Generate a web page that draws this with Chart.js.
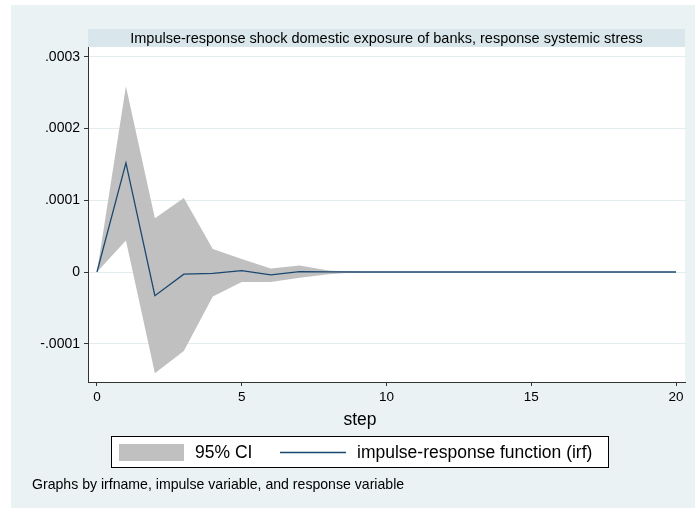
<!DOCTYPE html>
<html>
<head>
<meta charset="utf-8">
<script src="https://cdn.jsdelivr.net/npm/chart.js@4/dist/chart.umd.min.js"></script>
<style>
  body { margin: 0; background: #fff; }
  canvas { display: block; }
</style>
</head>
<body>
<canvas id="irfChart" width="695" height="508"></canvas>
<script>
const steps = [0, 1, 2, 3, 4, 5, 6, 7, 8, 9, 10, 11, 12, 13, 14, 15, 16, 17, 18, 19, 20];
const irf = [0, 1.52e-4, -0.33e-4, -0.03e-4, -0.02e-4, 0.02e-4, -0.04e-4, 0.005e-4, 0.001e-4, 0, 0, 0, 0, 0, 0, 0, 0, 0, 0, 0, 0];
const ciUpper = [0, 2.59e-4, 0.75e-4, 1.03e-4, 0.32e-4, 0.18e-4, 0.05e-4, 0.09e-4, 0.02e-4, 0.005e-4, 0.001e-4, 0, 0, 0, 0, 0, 0, 0, 0, 0, 0];
const ciLower = [0, 0.44e-4, -1.41e-4, -1.10e-4, -0.34e-4, -0.14e-4, -0.14e-4, -0.08e-4, -0.03e-4, -0.005e-4, -0.001e-4, 0, 0, 0, 0, 0, 0, 0, 0, 0, 0];
const xTicks = [0, 5, 10, 15, 20];
const yTicks = [-1e-4, 0, 1e-4, 2e-4, 3e-4];

const titleText = 'Impulse-response shock domestic exposure of banks, response systemic stress';
const noteText = 'Graphs by irfname, impulse variable, and response variable';
const FONT = "'Liberation Sans', Arial, sans-serif";
const NAVY = '#1a476f';
const CI_GRAY = '#c0c0c0';

function pts(vals) {
    return steps.map((s, i) => ({ x: s, y: vals[i] }));
}

function fmtY(v) {
    if (Math.abs(v) < 1e-12) return '0';
    return (v < 0 ? '-' : '') + Math.abs(v).toFixed(4).replace(/^0/, '');
}

const stataFrame = {
    id: 'stataFrame',
    beforeDraw(chart) {
        const ctx = chart.ctx;
        const a = chart.chartArea;
        ctx.save();
        ctx.fillStyle = '#ffffff';
        ctx.fillRect(0, 0, chart.width, chart.height);
        ctx.fillStyle = '#eaf2f3';
        ctx.fillRect(11, 5, chart.width - 11, chart.height - 5);
        // title band
        ctx.fillStyle = '#d9e6eb';
        ctx.fillRect(a.left, 29, a.right - a.left, 18);
        ctx.fillStyle = '#ffffff';
        ctx.fillRect(a.left, a.top, a.right - a.left, a.bottom - a.top);
        ctx.restore();
    },
    afterDraw(chart) {
        const ctx = chart.ctx;
        const a = chart.chartArea;
        ctx.save();
        ctx.fillStyle = '#000';
        ctx.textBaseline = 'middle';

        ctx.textAlign = 'center';
        ctx.font = '14.5px ' + FONT;
        ctx.fillText(titleText, (a.left + a.right) / 2, 38.5);

        ctx.font = '17.5px ' + FONT;
        ctx.fillText('step', 360, 420);

        // legend box
        ctx.fillStyle = '#ffffff';
        ctx.fillRect(111.5, 436.5, 497, 31);
        ctx.strokeStyle = '#000';
        ctx.lineWidth = 1;
        ctx.strokeRect(111.5, 436.5, 497, 31);
        ctx.fillStyle = CI_GRAY;
        ctx.fillRect(119, 444, 65, 17);
        ctx.strokeStyle = NAVY;
        ctx.lineWidth = 1.3;
        ctx.beginPath();
        ctx.moveTo(280, 452.5);
        ctx.lineTo(346, 452.5);
        ctx.stroke();
        ctx.fillStyle = '#000';
        ctx.textAlign = 'left';
        ctx.font = '17.5px ' + FONT;
        ctx.fillText('95% CI', 195, 453);
        ctx.fillText('impulse-response function (irf)', 357, 453);

        ctx.font = '14.1px ' + FONT;
        ctx.fillText(noteText, 32, 485);
        ctx.restore();
    }
};

new Chart(document.getElementById('irfChart').getContext('2d'), {
    type: 'line',
    data: {
        datasets: [
            {
                label: '95% CI',
                data: pts(ciUpper),
                borderColor: 'rgba(0,0,0,0)',
                borderWidth: 0,
                backgroundColor: CI_GRAY,
                pointRadius: 0,
                fill: '+1',
                tension: 0,
                order: 2
            },
            {
                label: 'lower',
                data: pts(ciLower),
                borderColor: 'rgba(0,0,0,0)',
                borderWidth: 0,
                pointRadius: 0,
                fill: false,
                tension: 0,
                order: 3
            },
            {
                label: 'impulse-response function (irf)',
                data: pts(irf),
                borderColor: NAVY,
                borderWidth: 1.3,
                pointRadius: 0,
                fill: false,
                tension: 0,
                order: 0
            }
        ]
    },
    options: {
        responsive: false,
        animation: false,
        layout: { padding: { left: 0, top: 47, right: 10, bottom: 0 } },
        plugins: {
            legend: { display: false },
            title: { display: false },
            tooltip: { enabled: false }
        },
        scales: {
            x: {
                type: 'linear',
                min: -0.31,
                max: 20.31,
                afterBuildTicks: s => { s.ticks = xTicks.map(v => ({ value: v })); },
                afterFit: s => { s.height = 126; },
                ticks: {
                    font: { family: FONT, size: 13.5 },
                    color: '#000',
                    padding: 3,
                    maxRotation: 0,
                    callback: v => String(v)
                },
                grid: { drawOnChartArea: false, tickLength: 4, tickColor: '#333' },
                border: { color: '#333', width: 1 }
            },
            y: {
                min: -1.533e-4,
                max: 3.136e-4,
                afterBuildTicks: s => { s.ticks = yTicks.map(v => ({ value: v })); },
                afterFit: s => { s.width = 88; },
                ticks: {
                    font: { family: FONT, size: 14 },
                    color: '#000',
                    padding: 4,
                    callback: v => fmtY(v)
                },
                grid: { color: '#e3edef', tickLength: 4, tickColor: '#333' },
                border: { color: '#333', width: 1 }
            }
        }
    },
    plugins: [stataFrame]
});
</script>
</body>
</html>
